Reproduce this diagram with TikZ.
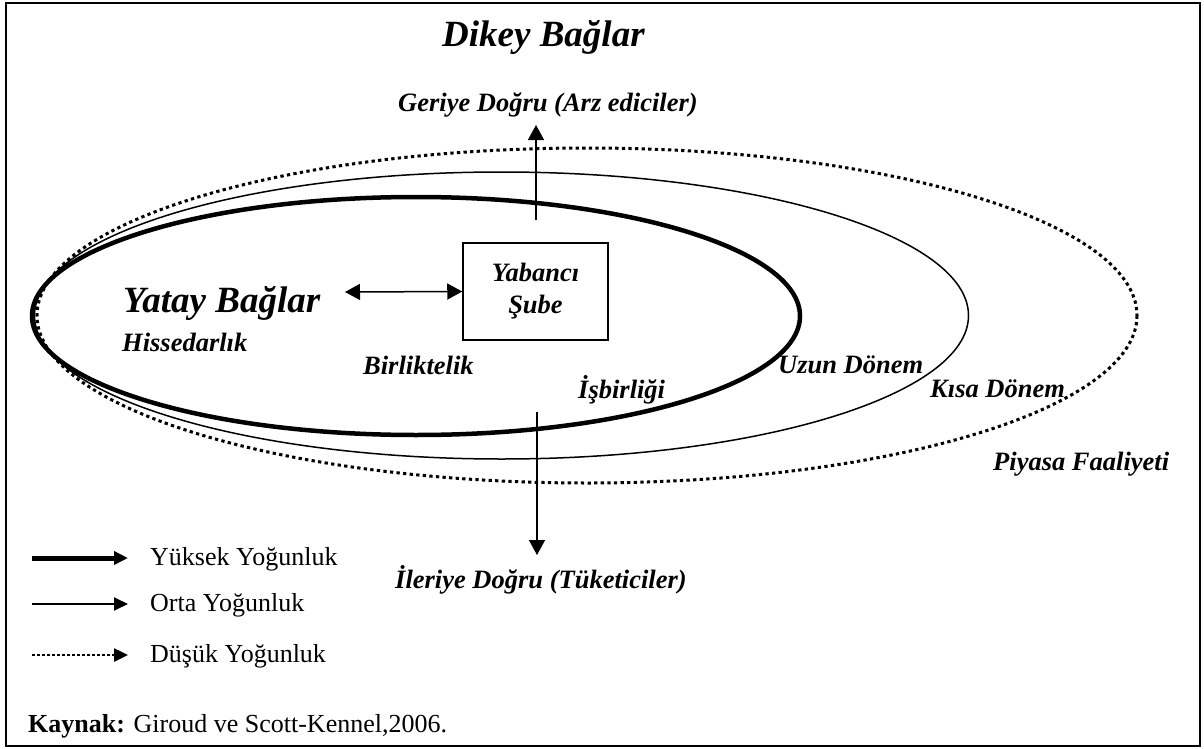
\documentclass[tikz,border=0pt]{standalone}
\usepackage{fontspec}
\setmainfont{Liberation Serif}
\usetikzlibrary{arrows.meta}
\begin{document}
\begin{tikzpicture}[x=1pt,y=-1pt,
  lbl/.style={font=\fontsize{26.5}{30}\selectfont\bfseries\itshape, inner sep=0pt, anchor=base west},
  big/.style={font=\fontsize{37}{40}\selectfont\bfseries\itshape, inner sep=0pt, anchor=base west},
  leg/.style={font=\fontsize{26}{30}\selectfont, inner sep=0pt, anchor=base west},
  arr/.style={line width=1.5pt, -{Triangle[length=15pt,width=16pt]}},
  dblarr/.style={line width=1.5pt, {Triangle[length=15pt,width=16pt]}-{Triangle[length=15pt,width=16pt]}},
  legtip/.style={-{Triangle[length=14pt,width=13pt]}},
  thickl/.style={line width=4.5pt},
  thinl/.style={line width=1.5pt},
  dotl/.style={line width=3pt, dash pattern=on 3.3pt off 3.3pt},
]
\useasboundingbox (0,0) rectangle (1204,749);
\draw[line width=1.5pt] (6,3) rectangle (1200,746);

% ellipses
\draw[thickl] (416,316) ellipse [x radius=384, y radius=119];
\draw[thinl] (501.5,315.5) ellipse [x radius=467, y radius=143.5];
\draw[dotl] (587,315.5) ellipse [x radius=550, y radius=167.5];

% titles and labels
\node[big] (dikey) at (442,47) {Dikey Bağlar};
\node[lbl] (geriye) at (398,112) {Geriye Doğru (Arz ediciler)};
\node[big] (yatay) at (123,312) {Yatay Bağlar};
\node[lbl] (hisse) at (122,351) {Hissedarlık};
\node[lbl] (birlik) at (363,374) {Birliktelik};
\node[lbl] (isbir) at (578,398) {İşbirliği};
\node[lbl] (uzun) at (778,373) {Uzun Dönem};
\node[lbl] (kisa) at (930,397) {Kısa Dönem};
\node[lbl] (piyasa) at (993,470) {Piyasa Faaliyeti};
\node[lbl] (ileri) at (395,588) {İleriye Doğru (Tüketiciler)};

% foreign branch box
\node[draw, line width=1.5pt, minimum width=145pt, minimum height=97pt, inner sep=0pt,
      align=center, font=\fontsize{26.5}{32}\selectfont\bfseries\itshape] (sube) at (535.5,291.5) {Yabancı\\Şube};

% connectors
\coordinate (upS) at (536,220);
\coordinate (upT) at (536,125);
\draw[arr] (upS) -- (upT);
\coordinate (dnS) at (537,412);
\coordinate (dnT) at (537,555);
\draw[arr] (dnS) -- (dnT);
\coordinate (hL) at (345,292);
\draw[dblarr] (hL) -- (sube.west);

% legend
\node[leg] (l1) at (150,565) {Yüksek Yoğunluk};
\node[leg] (l2) at (150,611) {Orta Yoğunluk};
\node[leg] (l3) at (150,662) {Düşük Yoğunluk};
\coordinate (a1) at (32,558);
\coordinate (a2) at (32,604);
\coordinate (a3) at (32,655);
\draw[line width=5pt, legtip] (a1) -- ([xshift=-22pt]l1.west |- a1);
\draw[line width=2pt, legtip] (a2) -- ([xshift=-22pt]l2.west |- a2);
\draw[line width=2.5pt, dash pattern=on 2.5pt off 2.5pt, legtip] (a3) -- ([xshift=-22pt]l3.west |- a3);

\node[leg] (kaynak) at (28,732) {\textbf{Kaynak:} Giroud ve Scott-Kennel,2006.};
\end{tikzpicture}
\end{document}
